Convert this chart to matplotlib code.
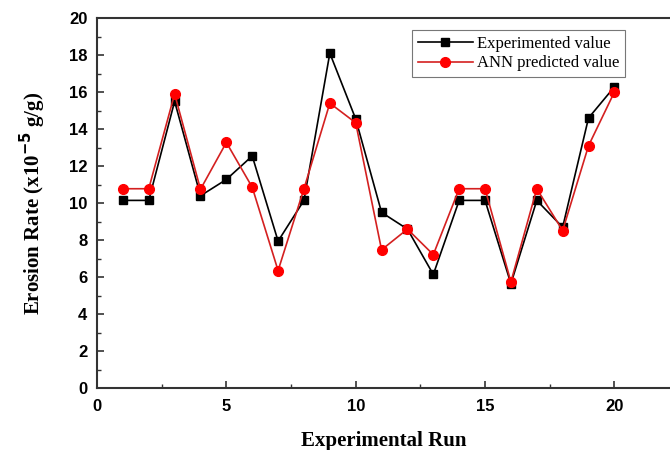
import matplotlib
matplotlib.use("Agg")
import matplotlib.pyplot as plt
from matplotlib.ticker import MultipleLocator

runs = list(range(1, 21))
experimented = [10.15, 10.15, 15.5, 10.4, 11.28, 12.55, 7.95, 10.15, 18.1, 14.55,
                9.5, 8.6, 6.15, 10.15, 10.15, 5.65, 10.15, 8.7, 14.6, 16.28]
ann_predicted = [10.78, 10.78, 15.9, 10.75, 13.28, 10.86, 6.36, 10.78, 15.4, 14.34,
                 7.48, 8.6, 7.22, 10.78, 10.78, 5.75, 10.78, 8.52, 13.1, 16.0]

serif = ['Liberation Serif', 'DejaVu Serif']
sans = ['Liberation Sans', 'DejaVu Sans']

fig = plt.figure(figsize=(6.7, 4.5), dpi=100)
ax = fig.add_axes([0.1448, 0.137, 0.8552, 0.823])

ax.plot(runs, experimented, color='black', lw=1.2, marker='s', ms=6,
        label='Experimented value', zorder=3)
ax.plot(runs, ann_predicted, color='#d42020', lw=1.2, marker='o', ms=7,
        mfc='red', mec='red', label='ANN predicted value', zorder=3)

ax.set_xlim(0, 22.15)
ax.set_ylim(0, 20)
ax.xaxis.set_major_locator(MultipleLocator(5))
ax.xaxis.set_minor_locator(MultipleLocator(2.5))
ax.yaxis.set_major_locator(MultipleLocator(2))
ax.yaxis.set_minor_locator(MultipleLocator(1))
ax.tick_params(which='both', direction='in', color='#333333')
ax.tick_params(which='major', length=5, width=1.2, labelsize=12)
ax.tick_params(axis='x', which='major', pad=8)
ax.tick_params(axis='y', which='major', pad=7)
ax.tick_params(which='minor', length=3, width=1)

for lab in ax.get_xticklabels() + ax.get_yticklabels():
    lab.set_family(sans)
    lab.set_fontweight('bold')

for s in ['left', 'bottom', 'top']:
    ax.spines[s].set_color('#333333')
    ax.spines[s].set_linewidth(1.5)
ax.spines['right'].set_visible(False)

ax.set_xlabel('Experimental Run', family=serif, fontweight='bold', fontsize=15, labelpad=12)
ax.set_ylabel(r'Erosion Rate (x10$^{\mathbf{-5}}$ g/g)', family=serif, fontweight='bold',
              fontsize=15, labelpad=15)

leg = ax.legend(loc='upper left', bbox_to_anchor=(0.55, 0.967), borderaxespad=0,
                prop={'family': serif, 'size': 12},
                fancybox=False, edgecolor='#777777', framealpha=1, handlelength=3.3,
                borderpad=0.35, labelspacing=0.2, handletextpad=0.25)
leg.get_frame().set_linewidth(0.8)

fig.savefig('out.png', dpi=100)
